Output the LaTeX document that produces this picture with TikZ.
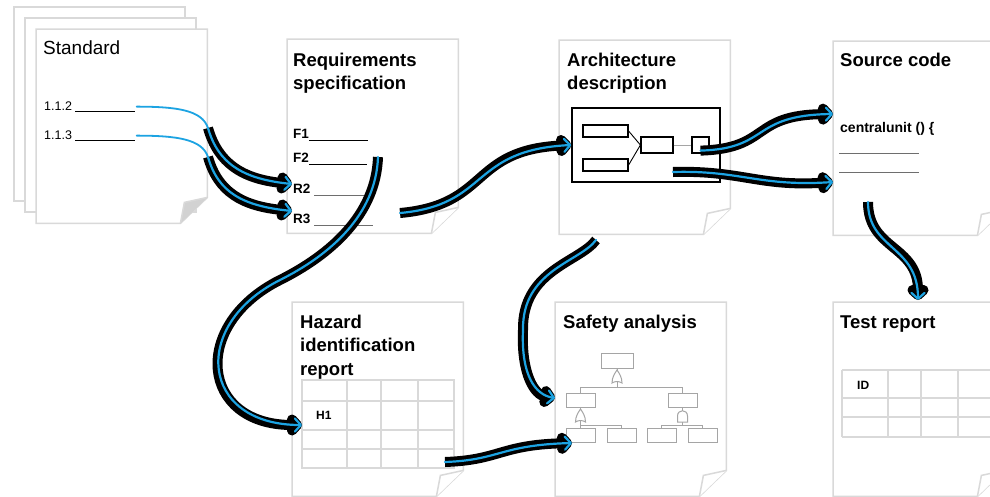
\documentclass[tikz,border=0pt]{standalone}
\usepackage{fontspec}
\setmainfont{Liberation Sans}
\usetikzlibrary{arrows.meta,positioning}
\definecolor{pagegray}{RGB}{217,217,217}
\definecolor{flapgray}{RGB}{210,210,210}
\definecolor{ruleg}{RGB}{110,110,110}
\definecolor{treegray}{RGB}{165,165,165}
\definecolor{flowblue}{RGB}{28,163,226}
\tikzset
{
    pagebox/.style    = {anchor=north west, minimum width=171pt, minimum height=194pt, inner sep=0pt},
    pageline/.style   = {draw=pagegray, line width=1.5pt},
    plaintitle/.style = {anchor=base west, inner sep=0pt, font=\fontsize{19}{23.5}\selectfont},
    doctitle/.style   = {anchor=base west, inner sep=0pt, align=left, font=\fontsize{18.5}{23.5}\selectfont\bfseries},
    clausetext/.style = {anchor=base west, inner sep=1pt, font=\fontsize{12.5}{15}\selectfont},
    itemtext/.style   = {anchor=base west, inner sep=1pt, font=\fontsize{13.5}{15}\selectfont\bfseries},
    celltext/.style   = {anchor=base west, inner sep=0pt, font=\fontsize{12}{14}\selectfont\bfseries},
    tableline/.style  = {draw=pagegray, line width=1.5pt},
    codeline/.style   = {draw=ruleg, line width=0.9pt},
    archbox/.style    = {draw=black, line width=1.5pt, inner sep=0pt},
    archpart/.style   = {draw=black, line width=1.2pt, fill=white, inner sep=0pt},
    archlink/.style   = {draw=black, line width=0.9pt},
    treebox/.style    = {draw=treegray, line width=1pt, fill=white, inner sep=0pt, minimum width=29pt, minimum height=14pt},
    treeline/.style   = {draw=treegray, line width=1pt},
    orgate/.pic       = {\draw [treeline, fill=white] (-5,6) .. controls (-5,0) and (-2,-4) .. (0,-7)
                           .. controls (2,-4) and (5,0) .. (5,6) .. controls (2,4) and (-2,4) .. cycle;},
    andgate/.pic      = {\draw [treeline, fill=white] (-5,6) -- (-5,0) .. controls (-5,-7) and (5,-7) .. (5,0)
                           -- (5,6) -- cycle;},
    trace/.style      = {draw=flowblue, line width=1.8pt, line cap=round},
    flow/.style       = {draw=flowblue, line width=2.2pt, line cap=round, -{Straight Barb[length=6pt,width=13pt,round]},
                         preaction={draw=black, line width=10pt, -{Straight Barb[length=5pt,width=11pt,round]}}}
}
\newcommand{\docpage}[4][white]{%
  \node [pagebox] (#2) at (#3,#4) {};
  \draw [pageline, fill=white] (#2.north west) -- (#2.north east) -- ([yshift=26pt]#2.south east)
    -- ([xshift=-27pt]#2.south east) -- (#2.south west) -- cycle;
  \draw [pageline, fill=#1] ([xshift=-27pt]#2.south east) -- ([xshift=-23pt,yshift=21pt]#2.south east)
    -- ([yshift=26pt]#2.south east);
}
\begin{document}
\begin{tikzpicture}[x=1pt, y=-1pt]
    \useasboundingbox (0,0) rectangle (990,496);
    \clip (0,0) rectangle (990,496);

    \node [pagebox, draw=pagegray, line width=1.5pt, fill=white] (std3) at (13,6) {};
    \node [pagebox, draw=pagegray, line width=1.5pt, fill=white] (std2) at (24,17) {};
    \docpage[flapgray]{std}{36}{29}
    \docpage{req}{287}{39}
    \docpage{arc}{559}{40}
    \docpage{src}{833}{41}
    \docpage{haz}{292}{302}
    \docpage{saf}{555}{302}
    \docpage{tst}{833}{302}

    \node [plaintitle] (stdtitle) at (43,54) {Standard};
    \node [doctitle] (reqtitle) at (293,89.5) {Requirements\\specification};
    \node [doctitle] (arctitle) at (567,89.5) {Architecture\\description};
    \node [doctitle] (srctitle) at (840,66) {Source code};
    \node [doctitle] (haztitle) at (300,375) {Hazard\\identification\\report};
    \node [doctitle] (saftitle) at (563,328) {Safety analysis};
    \node [doctitle] (tsttitle) at (840,328) {Test report};

    \node [clausetext] (s112) at (43,110) {1.1.2 \rule[-2pt]{60pt}{0.8pt}};
    \node [clausetext] (s113) at (43,139) {1.1.3 \rule[-2pt]{60pt}{0.8pt}};

    \node [itemtext] (f1) at (292,138) {F1\rule[-3pt]{59pt}{0.9pt}};
    \node [itemtext] (f2) at (292,162) {F2\rule[-3pt]{58pt}{0.9pt}};
    \node [itemtext] (r2) at (292,193) {R2 {\color{ruleg}\rule[-3pt]{57pt}{0.8pt}}};
    \node [itemtext] (r3) at (292,223) {R3 {\color{ruleg}\rule[-3pt]{59pt}{0.8pt}}};

    \node [archbox, minimum width=148pt, minimum height=74pt] (sys) at (646,145) {};
    \node [archpart, minimum width=45pt, minimum height=12pt] (inA) at (605.5,131) {};
    \node [archpart, minimum width=45pt, minimum height=12pt] (inB) at (605.5,165) {};
    \node [archpart, minimum width=32pt, minimum height=16pt] (core) at (657,145) {};
    \node [archpart, minimum width=17pt, minimum height=16pt] (out) at (700.5,145) {};
    \draw [archlink] (inA.east) -- (core.west) (inB.east) -- (core.west);
    \draw [archlink, draw=treegray] (core.east) -- (out.west);

    \node [itemtext, font=\fontsize{14}{15}\selectfont\bfseries] (cu) at (839,132) {centralunit () \{};
    \draw [codeline] (839,153) -- (919,153) (839,172) -- (919,172);

    \draw [tableline] (302,380) rectangle (454,468);
    \draw [tableline] (302,401) -- (454,401) (302,430) -- (454,430) (302,449) -- (454,449);
    \draw [tableline] (347,380) -- (347,468) (381,380) -- (381,468) (418,380) -- (418,468);
    \node [celltext] (h1) at (316,419) {H1};

    \draw [tableline] (842,370) -- (1000,370) (842,398) -- (1000,398) (842,417) -- (1000,417) (842,437) -- (1000,437);
    \draw [tableline] (842,370) -- (842,437) (888,370) -- (888,437) (921,370) -- (921,437) (958,370) -- (958,437);
    \node [celltext] (id) at (857,389) {ID};

    \node [treebox, minimum width=32pt, minimum height=15pt] (top) at (617,360.5) {};
    \node [treebox] (left) at (580.5,400) {};
    \node [treebox] (right) at (682.5,400) {};
    \node [treebox] (b1) at (580.5,435) {};
    \node [treebox] (b2) at (621.5,435) {};
    \node [treebox] (b3) at (661.5,435) {};
    \node [treebox] (b4) at (702.5,435) {};
    \draw [treeline] (top.south) -- (617,388) (left.north) -- ++(0,-5) -| (right.north);
    \draw [treeline] (left.south) -- (580.5,426) (b1.north) -- ++(0,-2) -| (b2.north);
    \draw [treeline] (right.south) -- (682.5,426) (b3.north) -- ++(0,-2) -| (b4.north);
    \pic at (617,377) {orgate};
    \pic at (580.5,416) {orgate};
    \pic at (682.5,416) {andgate};

    \coordinate (k1) at (208,128);
    \coordinate (k2) at (208,157);
    \coordinate (t1) at (292,184);
    \coordinate (t2) at (292,211);
    \coordinate (f2out) at (378,157);
    \coordinate (bend3) at (280,280);
    \coordinate (t3) at (302,425);
    \coordinate (r3out) at (400,213);
    \coordinate (t5) at (833,114);
    \coordinate (c6) at (673,172);
    \coordinate (t6) at (833,182);
    \coordinate (c7) at (868,202);
    \coordinate (t7) at (918,300);
    \coordinate (c8) at (596,240);
    \coordinate (bend8) at (523,330);
    \coordinate (t8) at (555,398);
    \coordinate (c9) at (445,462);
    \coordinate (t9) at (572,443);

    \draw [trace] (s112.east) .. controls +(40,0) and +(-6,-18) .. (k1);
    \draw [trace] (s113.east) .. controls +(40,0) and +(-6,-18) .. (k2);
    \draw [flow] (k1) .. controls +(10,35) and +(-50,-5) .. (t1);
    \draw [flow] (k2) .. controls +(10,35) and +(-50,-5) .. (t2);
    \draw [flow] (f2out) .. controls +(-2,58) and +(50,-25) .. (bend3) .. controls +(-90,45) and +(-102,0) .. (t3);
    \draw [flow] (r3out) .. controls +(90,-8) and +(-102,5) .. (sys.west);
    \draw [flow] ([yshift=3pt]out.south) .. controls +(70,-2) and +(-83,1) .. (t5);
    \draw [flow] (c6) .. controls +(67,-2) and +(-73,5) .. (t6);
    \draw [flow] (c7) .. controls +(0,48) and +(0,-55) .. (t7);
    \draw [flow] (c8) .. controls +(-16,22) and +(-1,-60) .. (bend8) .. controls +(-2,45) and +(-20,-3) .. (t8);
    \draw [flow] (c9) .. controls +(55,-2) and +(-72,2) .. (t9);
\end{tikzpicture}
\end{document}
